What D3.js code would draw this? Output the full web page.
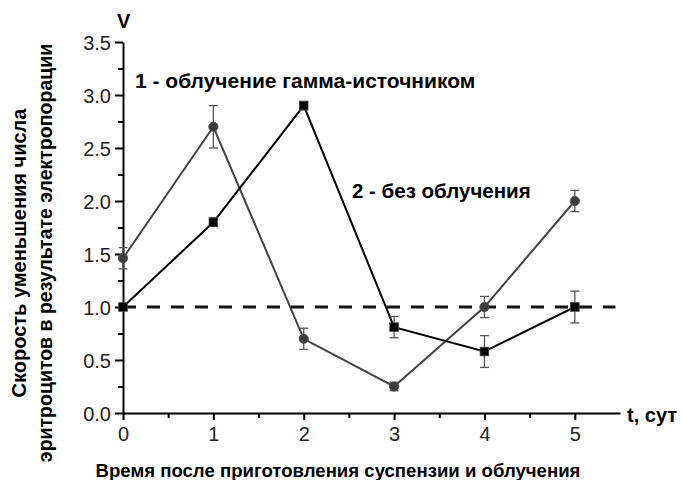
<!DOCTYPE html>
<html>
<head>
<meta charset="utf-8">
<script src="https://cdn.jsdelivr.net/npm/d3@7"></script>
<style>
  body { margin: 0; background: #fff; }
  svg { display: block; font-family: "Liberation Sans", Arial, sans-serif; }
</style>
</head>
<body>
<svg id="chart" width="682" height="480"></svg>
<script>
// Days after preparation
const days = [0, 1, 2, 3, 4, 5];
// Series 1: gamma-irradiated
const irradiated = [1.46, 2.70, 0.70, 0.25, 1.00, 2.00];
const irradiatedErr = [0.10, 0.20, 0.10, 0.04, 0.10, 0.10];
// Series 2: no irradiation
const control = [1.00, 1.80, 2.90, 0.81, 0.58, 1.00];
const controlErr = [0.03, 0.04, 0.04, 0.10, 0.15, 0.15];
// Reference level
const baseline = 1.0;
const xTicks = [0, 1, 2, 3, 4, 5];
const yTicks = [0, 0.5, 1.0, 1.5, 2.0, 2.5, 3.0, 3.5];

const svg = d3.select("#chart");
const x = d3.scaleLinear().domain([0, 5.5]).range([123, 620]);
const y = d3.scaleLinear().domain([0, 3.5]).range([413, 42]);

// Axes with major and minor ticks
const yAxis = svg.append("g").attr("transform", `translate(${x(0)},0)`);
yAxis.call(d3.axisLeft(y).tickValues(yTicks).tickFormat(d3.format(".1f")).tickSize(8).tickSizeOuter(0));
svg.append("g").attr("transform", `translate(${x(0)},0)`)
  .call(d3.axisLeft(y).tickValues(d3.range(0.25, 3.5, 0.5)).tickFormat("").tickSize(5).tickSizeOuter(0))
  .select(".domain").remove();

const xAxis = svg.append("g").attr("transform", `translate(0,${y(0)})`);
xAxis.call(d3.axisBottom(x).tickValues(xTicks).tickFormat(d3.format("d")).tickSize(7).tickSizeOuter(0));
svg.append("g").attr("transform", `translate(0,${y(0)})`)
  .call(d3.axisBottom(x).tickValues(d3.range(0.5, 5.5, 1)).tickFormat("").tickSize(5).tickSizeOuter(0))
  .select(".domain").remove();

svg.selectAll(".domain").attr("stroke", "#000").attr("stroke-width", 2);
svg.selectAll(".tick line").attr("stroke", "#000").attr("stroke-width", 2);
yAxis.selectAll(".tick text").attr("font-size", 20).attr("fill", "#222").attr("x", -12).attr("dy", "0.36em");
xAxis.selectAll(".tick text").attr("font-size", 20).attr("fill", "#222").attr("y", 14).attr("dy", "0.71em");

// Dashed reference line
svg.append("line")
  .attr("x1", x(0)).attr("x2", x(5.45))
  .attr("y1", y(baseline)).attr("y2", y(baseline))
  .attr("stroke", "#111").attr("stroke-width", 3)
  .attr("stroke-dasharray", "13,11");

function drawSeries(vals, errs, lineColor, marker) {
  const pts = days.map((d, i) => ({ d, v: vals[i], e: errs[i] }));
  svg.append("path").datum(pts)
    .attr("fill", "none").attr("stroke", lineColor).attr("stroke-width", 2)
    .attr("d", d3.line().x(p => x(p.d)).y(p => y(p.v)));
  const eb = svg.append("g").attr("stroke", "#555").attr("stroke-width", 1.3);
  pts.forEach(p => {
    eb.append("line").attr("x1", x(p.d)).attr("x2", x(p.d)).attr("y1", y(p.v - p.e)).attr("y2", y(p.v + p.e));
    [p.v - p.e, p.v + p.e].forEach(v => eb.append("line")
      .attr("x1", x(p.d) - 4.5).attr("x2", x(p.d) + 4.5).attr("y1", y(v)).attr("y2", y(v)));
  });
  const g = svg.append("g");
  if (marker === "circle") {
    g.selectAll("circle").data(pts).join("circle")
      .attr("cx", p => x(p.d)).attr("cy", p => y(p.v)).attr("r", 4.7)
      .attr("fill", "#3c3c3c").attr("stroke", "#555").attr("stroke-width", 0.8);
  } else {
    g.selectAll("rect").data(pts).join("rect")
      .attr("x", p => x(p.d) - 4.3).attr("y", p => y(p.v) - 4.3)
      .attr("width", 8.6).attr("height", 8.6)
      .attr("fill", "#000").attr("stroke", "#444").attr("stroke-width", 0.8);
  }
}

drawSeries(irradiated, irradiatedErr, "#444", "circle");
drawSeries(control, controlErr, "#000", "square");

// Labels
const bold = sel => sel.attr("font-weight", "bold").attr("fill", "#000");
svg.append("text").attr("x", 117).attr("y", 28).attr("font-size", 20).text("V").call(bold);
svg.append("text").attr("x", 627).attr("y", 422).attr("font-size", 20).text("t, сут").call(bold);
svg.append("text").attr("x", 135).attr("y", 88).attr("font-size", 21).text("1 - облучение гамма-источником").call(bold);
svg.append("text").attr("x", 352).attr("y", 198).attr("font-size", 20.5).text("2 - без облучения").call(bold);
svg.append("text").attr("x", 338).attr("y", 477).attr("font-size", 18.6).attr("text-anchor", "middle")
  .text("Время после приготовления суспензии и облучения").call(bold);
svg.append("text").attr("transform", "translate(26,253) rotate(-90)").attr("font-size", 20)
  .attr("text-anchor", "middle").text("Скорость уменьшения числа").call(bold);
svg.append("text").attr("transform", "translate(52,253) rotate(-90)").attr("font-size", 19.5)
  .attr("text-anchor", "middle").text("эритроцитов в результате электропорации").call(bold);
</script>
</body>
</html>
